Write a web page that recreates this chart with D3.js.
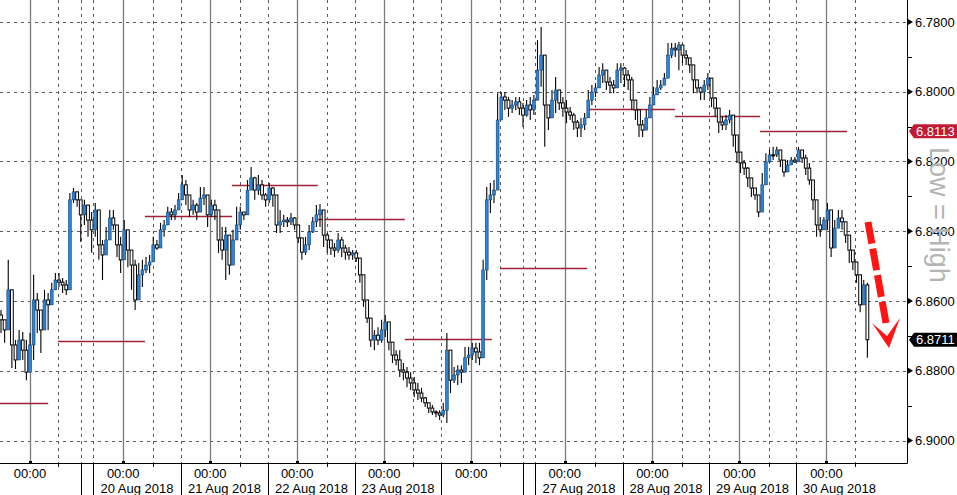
<!DOCTYPE html>
<html><head><meta charset="utf-8">
<script src="https://cdn.jsdelivr.net/npm/d3@7"></script>
<style>html,body{margin:0;padding:0;background:#fff;}svg{display:block;}</style>
</head><body>
<svg id="c" width="957" height="495"></svg>
<script>
// hourly USD/CNY candles (close / low / high), index = hour slot
const closes = [6.8654,6.8683,6.8568,6.8726,6.8769,6.8712,6.8741,6.8804,6.8726,6.8597,
6.8626,6.8683,6.8597,6.8611,6.8568,6.8540,6.8546,6.8554,6.8568,6.8310,
6.8287,6.8310,6.8353,6.8325,6.8368,6.8396,6.8339,6.8439,6.8468,6.8425,
6.8362,6.8382,6.8439,6.8482,6.8396,6.8454,6.8497,6.8597,6.8525,6.8511,
6.8497,6.8488,6.8439,6.8448,6.8396,6.8382,6.8345,6.8353,6.8339,6.8310,
6.8267,6.8296,6.8339,6.8325,6.8345,6.8305,6.8296,6.8353,6.8325,6.8339,
6.8425,6.8454,6.8411,6.8497,6.8425,6.8382,6.8345,6.8353,6.8282,6.8247,
6.8282,6.8267,6.8296,6.8310,6.8276,6.8296,6.8382,6.8373,6.8368,6.8373,
6.8362,6.8382,6.8419,6.8460,6.8439,6.8402,6.8373,6.8353,6.8339,6.8411,
6.8425,6.8448,6.8454,6.8425,6.8448,6.8460,6.8468,6.8462,6.8477,6.8525,
6.8597,6.8649,6.8712,6.8698,6.8712,6.8683,6.8660,6.8718,6.8755,6.8769,
6.8798,6.8804,6.8821,6.8835,6.8855,6.8864,6.8878,6.8892,6.8907,6.8918,
6.8921,6.8927,6.8913,6.8741,6.8827,6.8812,6.8798,6.8804,6.8763,6.8755,
6.8735,6.8746,6.8763,6.8511,6.8310,6.8296,6.8282,6.8081,6.8015,6.8024,
6.8047,6.8038,6.8029,6.8047,6.8067,6.8038,6.8052,6.8024,6.7938,6.7895,
6.8038,6.8075,6.8024,6.7995,6.8032,6.8047,6.8058,6.8067,6.8087,6.8104,
6.8095,6.8075,6.8024,6.8001,6.7989,6.7952,6.7938,6.7972,6.7981,6.7989,
6.7938,6.7932,6.7952,6.7966,6.8024,6.8052,6.8095,6.8110,6.8075,6.8038,
6.8009,6.7989,6.7981,6.7961,6.7895,6.7875,6.7880,6.7866,6.7895,6.7903,
6.7923,6.7966,6.7989,6.8001,6.7981,6.7961,6.8018,6.8047,6.8087,6.8095,
6.8081,6.8067,6.8124,6.8173,6.8204,6.8219,6.8247,6.8276,6.8296,6.8345,
6.8267,6.8201,6.8181,6.8181,6.8167,6.8196,6.8230,6.8210,6.8196,6.8201,
6.8167,6.8190,6.8219,6.8253,6.8310,6.8382,6.8396,6.8368,6.8339,6.8448,
6.8391,6.8362,6.8373,6.8411,6.8454,6.8488,6.8525,6.8611,6.8554,6.8711];
const lows = [6.8626,6.8654,6.8482,6.8692,6.8712,6.8683,6.8689,6.8712,6.8692,6.8525,
6.8577,6.8626,6.8568,6.8577,6.8548,6.8520,6.8520,6.8534,6.8540,6.8290,
6.8276,6.8296,6.8330,6.8310,6.8325,6.8345,6.8319,6.8416,6.8425,6.8388,
6.8339,6.8339,6.8388,6.8416,6.8368,6.8416,6.8454,6.8482,6.8491,6.8482,
6.8474,6.8468,6.8416,6.8425,6.8376,6.8368,6.8330,6.8333,6.8325,6.8290,
6.8239,6.8253,6.8310,6.8310,6.8319,6.8273,6.8273,6.8319,6.8310,6.8310,
6.8376,6.8388,6.8388,6.8462,6.8396,6.8330,6.8330,6.8345,6.8253,6.8216,
6.8244,6.8239,6.8253,6.8290,6.8262,6.8273,6.8325,6.8339,6.8353,6.8359,
6.8348,6.8359,6.8391,6.8434,6.8416,6.8382,6.8359,6.8325,6.8322,6.8388,
6.8405,6.8425,6.8434,6.8405,6.8416,6.8439,6.8445,6.8454,6.8454,6.8482,
6.8531,6.8606,6.8663,6.8683,6.8675,6.8654,6.8640,6.8683,6.8732,6.8741,
6.8741,6.8778,6.8789,6.8804,6.8818,6.8835,6.8849,6.8875,6.8892,6.8898,
6.8913,6.8913,6.8892,6.8692,6.8789,6.8789,6.8784,6.8784,6.8732,6.8732,
6.8720,6.8720,6.8720,6.8482,6.8273,6.8262,6.8253,6.8004,6.8001,6.8001,
6.8015,6.8024,6.8015,6.8015,6.8032,6.8024,6.8015,6.8009,6.7852,6.7814,
6.7981,6.8044,6.7995,6.7958,6.8015,6.8015,6.8024,6.8044,6.8061,6.8081,
6.8075,6.8061,6.7995,6.7981,6.7975,6.7929,6.7918,6.7952,6.7958,6.7966,
6.7918,6.7918,6.7929,6.7938,6.7958,6.8032,6.8067,6.8081,6.8052,6.8015,
6.7986,6.7966,6.7966,6.7946,6.7860,6.7860,6.7860,6.7857,6.7866,6.7880,
6.7909,6.7938,6.7975,6.7986,6.7966,6.7946,6.7986,6.8015,6.8061,6.8072,
6.8067,6.8052,6.8081,6.8147,6.8187,6.8196,6.8216,6.8262,6.8282,6.8302,
6.8233,6.8176,6.8167,6.8158,6.8158,6.8176,6.8216,6.8196,6.8187,6.8187,
6.8158,6.8167,6.8181,6.8204,6.8262,6.8330,6.8359,6.8359,6.8319,6.8396,
6.8368,6.8339,6.8339,6.8388,6.8434,6.8468,6.8491,6.8554,6.8540,6.8548];
const highs = [6.8692,6.8720,6.8654,6.8792,6.8795,6.8749,6.8769,6.8827,6.8769,6.8769,
6.8692,6.8749,6.8646,6.8683,6.8589,6.8560,6.8560,6.8577,6.8583,6.8560,
6.8319,6.8330,6.8431,6.8382,6.8416,6.8462,6.8416,6.8482,6.8540,6.8462,
6.8388,6.8396,6.8474,6.8520,6.8445,6.8503,6.8568,6.8626,6.8548,6.8560,
6.8520,6.8520,6.8462,6.8454,6.8416,6.8416,6.8376,6.8368,6.8368,6.8339,
6.8310,6.8325,6.8359,6.8353,6.8368,6.8330,6.8325,6.8388,6.8359,6.8368,
6.8462,6.8482,6.8540,6.8525,6.8454,6.8411,6.8396,6.8368,6.8296,6.8273,
6.8310,6.8296,6.8310,6.8330,6.8319,6.8330,6.8405,6.8405,6.8388,6.8388,
6.8382,6.8396,6.8434,6.8482,6.8468,6.8454,6.8405,6.8388,6.8388,6.8445,
6.8462,6.8468,6.8474,6.8462,6.8474,6.8482,6.8482,6.8482,6.8488,6.8548,
6.8617,6.8663,6.8732,6.8741,6.8726,6.8720,6.8703,6.8741,6.8778,6.8784,
6.8818,6.8827,6.8847,6.8855,6.8875,6.8884,6.8890,6.8904,6.8921,6.8927,
6.8933,6.8941,6.8933,6.8950,6.8864,6.8835,6.8841,6.8835,6.8798,6.8784,
6.8769,6.8778,6.8784,6.8654,6.8540,6.8348,6.8319,6.8253,6.8044,6.8052,
6.8072,6.8061,6.8052,6.8067,6.8101,6.8072,6.8081,6.8067,6.7995,6.7986,
6.8158,6.8110,6.8067,6.8061,6.8052,6.8072,6.8090,6.8081,6.8110,6.8130,
6.8130,6.8110,6.8061,6.8038,6.8015,6.7986,6.7975,6.7995,6.8004,6.8004,
6.7966,6.7975,6.7986,6.7995,6.8052,6.8081,6.8130,6.8130,6.8110,6.8061,
6.8032,6.8004,6.7995,6.7975,6.7918,6.7903,6.7900,6.7938,6.7918,6.7923,
6.7946,6.8004,6.8004,6.8024,6.8024,6.7995,6.8044,6.8072,6.8118,6.8110,
6.8110,6.8090,6.8158,6.8204,6.8233,6.8239,6.8273,6.8302,6.8310,6.8359,
6.8319,6.8224,6.8204,6.8196,6.8187,6.8216,6.8244,6.8224,6.8210,6.8204,
6.8187,6.8204,6.8239,6.8267,6.8339,6.8416,6.8416,6.8388,6.8396,6.8474,
6.8416,6.8388,6.8396,6.8434,6.8491,6.8511,6.8548,6.8632,6.8577,6.8763];
const firstOpen = 6.8640;

// daily fixing levels: [start slot, end slot, level]
const fixStart = [-10.3, 15.7, 39.7, 63.7, 87.4, 111.4, 137.7, 161.9, 185.9, 209.4];
const fixEnd   = [13.0, 39.7, 63.7, 87.4, 111.4, 135.4, 161.7, 185.9, 209.4, 233.4];
const fixLevel = [6.8892, 6.8715, 6.8356, 6.8267, 6.8365, 6.8709, 6.8505, 6.8049, 6.8069, 6.8113];

// time axis (slot positions)
const midnightSlots = [8, 33.7, 57.7, 81.7, 105.7, 129.7, 155.5, 179.7, 203.7, 227.7];
const timeLabels = ["00:00","00:00","00:00","00:00","00:00","00:00","00:00","00:00","00:00","00:00"];
const morningSlots = [15.7, 41.9, 65.9, 89.9, 113.7, 137.7, 163.9, 187.9, 211.9, 235.6];
const sessionSlots = [22.07, 25.38, 49.66, 73.66, 97.66, 121.38, 144, 147.3, 171.6, 195.3, 219.3];
const dateFrom = [25.38, 49.66, 73.66, 97.66, 147.3, 171.6, 195.3, 219.3];
const dateTo   = [49.66, 73.66, 97.66, 121.38, 171.6, 195.3, 219.3, 243.3];
const dateLabels = ["20 Aug 2018","21 Aug 2018","22 Aug 2018","23 Aug 2018","27 Aug 2018","28 Aug 2018","29 Aug 2018","30 Aug 2018"];

// price axis
const yTicks = [6.78, 6.80, 6.82, 6.84, 6.86, 6.88, 6.90];
const yMinor = [6.79, 6.81, 6.83, 6.85, 6.87, 6.89];
const fixTag = 6.8113, lastTag = 6.8711;

const W = 957, H = 495, plotR = 907, plotB = 463;
const x = d3.scaleLinear().domain([0, 250]).range([1, 907.25]);
const y = d3.scaleLinear().domain([6.78, 6.90]).range([22, 440.5]);
const svg = d3.select("#c");
const font = "'Liberation Sans', Arial, sans-serif";

svg.append("defs").append("clipPath").attr("id","pc").append("rect")
  .attr("x",0).attr("y",0).attr("width",plotR).attr("height",plotB);

const grid = svg.append("g");
grid.selectAll("line.h").data(yTicks).join("line")
  .attr("x1",0).attr("x2",plotR).attr("y1",d=>Math.round(y(d))+0.5).attr("y2",d=>Math.round(y(d))+0.5)
  .attr("stroke","#5a5a5a").attr("stroke-width",1).attr("stroke-dasharray","3,4");
grid.selectAll("line.vd").data(morningSlots.concat(sessionSlots)).join("line")
  .attr("x1",d=>Math.round(x(d))+0.5).attr("x2",d=>Math.round(x(d))+0.5).attr("y1",0).attr("y2",plotB)
  .attr("stroke","#5a5a5a").attr("stroke-width",1).attr("stroke-dasharray","3,4");
grid.selectAll("line.vs").data(midnightSlots).join("line")
  .attr("x1",d=>Math.round(x(d))+0.5).attr("x2",d=>Math.round(x(d))+0.5).attr("y1",0).attr("y2",plotB)
  .attr("stroke","#7a7a7a").attr("stroke-width",1.3);

const plot = svg.append("g").attr("clip-path","url(#pc)");
plot.selectAll("line.fix").data(fixLevel).join("line")
  .attr("x1",(d,i)=>x(fixStart[i])).attr("x2",(d,i)=>x(fixEnd[i]))
  .attr("y1",d=>Math.round(y(d))+0.5).attr("y2",d=>Math.round(y(d))+0.5)
  .attr("stroke","#9e2236").attr("stroke-width",1.3);

const candles = closes.map((c,i)=>{
  const o = i===0 ? firstOpen : closes[i-1];
  return {i, o, c, lo: Math.min(lows[i], o, c), hi: Math.max(highs[i], o, c)};
});
const cg = plot.append("g");
cg.selectAll("line.w").data(candles).join("line")
  .attr("x1",d=>x(d.i)).attr("x2",d=>x(d.i))
  .attr("y1",d=>y(d.lo)).attr("y2",d=>y(d.hi))
  .attr("stroke","#000").attr("stroke-width",1.1);
cg.selectAll("rect").data(candles).join("rect")
  .attr("x",d=>x(d.i)-1.4).attr("width",2.8)
  .attr("y",d=>y(Math.min(d.o,d.c)))
  .attr("height",d=>Math.max(1,Math.abs(y(d.c)-y(d.o))))
  .attr("fill",d=>d.c<d.o ? "#2a86dc" : "#fff")
  .attr("stroke",d=>d.c<d.o ? "#123f70" : "#000")
  .attr("stroke-width",d=>d.c<d.o ? 0.6 : 1);

svg.append("line").attr("x1",0).attr("x2",plotR+0.5).attr("y1",plotB+0.5).attr("y2",plotB+0.5).attr("stroke","#000");
svg.append("line").attr("x1",plotR+0.5).attr("x2",plotR+0.5).attr("y1",0).attr("y2",plotB+0.5).attr("stroke","#000");

const bx = svg.append("g").attr("font-family",font).attr("font-size",13).attr("fill","#000");
bx.selectAll("line.sep").data(sessionSlots).join("line")
  .attr("x1",d=>Math.round(x(d))+0.5).attr("x2",d=>Math.round(x(d))+0.5).attr("y1",plotB).attr("y2",H)
  .attr("stroke","#000");
bx.selectAll("rect.mt").data(midnightSlots).join("rect")
  .attr("x",d=>Math.round(x(d))-1).attr("y",plotB-2).attr("width",3).attr("height",3).attr("fill","#000");
bx.selectAll("line.mn").data(morningSlots).join("line")
  .attr("x1",d=>Math.round(x(d))+0.5).attr("x2",d=>Math.round(x(d))+0.5).attr("y1",plotB).attr("y2",plotB+4)
  .attr("stroke","#000");
bx.selectAll("text.t").data(timeLabels).join("text")
  .attr("x",(d,i)=>x(midnightSlots[i])).attr("y",478).attr("text-anchor","middle").text(d=>d);
bx.selectAll("text.d").data(dateLabels).join("text")
  .attr("x",(d,i)=>(x(dateFrom[i])+x(dateTo[i]))/2).attr("y",493).attr("text-anchor","middle").text(d=>d);

const ry = svg.append("g").attr("font-family",font).attr("font-size",13).attr("fill","#000");
ry.selectAll("path.tri").data(yTicks).join("path")
  .attr("d",d=>{const yy=y(d); return `M${plotR+1},${yy-3} L${plotR+6},${yy} L${plotR+1},${yy+3} Z`;})
  .attr("fill","#000");
ry.selectAll("line.mi").data(yMinor).join("line")
  .attr("x1",plotR).attr("x2",plotR+5).attr("y1",d=>Math.round(y(d))+0.5).attr("y2",d=>Math.round(y(d))+0.5)
  .attr("stroke","#000");
ry.selectAll("text").data(yTicks).join("text")
  .attr("x",plotR+8).attr("y",d=>y(d)).attr("dy","0.36em").text(d=>d.toFixed(4));

svg.append("text").attr("transform","translate(930,147) rotate(90)")
  .attr("font-family",font).attr("font-size",27).attr("fill","#b4b4b4").text("Low = High");

function tag(v, col){
  const yy = y(v), g = svg.append("g");
  g.append("path").attr("d",`M${plotR+2},${yy} L${plotR+7},${yy-7} L${W},${yy-7} L${W},${yy+7} L${plotR+7},${yy+7} Z`).attr("fill",col);
  g.append("text").attr("x",plotR+9).attr("y",yy).attr("dy","0.36em").attr("font-family",font)
    .attr("font-size",13).attr("fill","#fff").text(v.toFixed(4));
}
tag(fixTag, "#c21a34");
tag(lastTag, "#000");

svg.append("line").attr("x1",868).attr("y1",222).attr("x2",886).attr("y2",323)
  .attr("stroke","#ff1414").attr("stroke-width",7).attr("stroke-dasharray","22,5");
svg.append("path").attr("d","M872,323 L889,348 L900,318 L887,336 Z").attr("fill","#ff1414");
</script>
</body></html>
